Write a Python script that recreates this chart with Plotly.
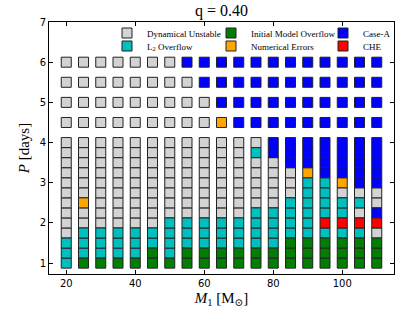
import plotly.graph_objects as go

# Primary mass grid [Msun]
masses = [20, 25, 30, 35, 40, 45, 50, 55, 60, 65, 70, 75, 80, 85, 90, 95, 100, 105, 110]
# Orbital period grid [days]
periods = [1.0, 1.25, 1.5, 1.75, 2.0, 2.25, 2.5, 2.75, 3.0, 3.25, 3.5, 3.75, 4.0,
           4.5, 5.0, 5.5, 6.0]

# Outcome per mass, one letter per period (low -> high P)
# D dynamical unstable, L L2 overflow, I initial model overflow,
# N numerical errors, A case-A, C CHE
status = [
    "LLLDDDDDDDDDDDDDD",  # 20
    "ILLLDDNDDDDDDDDDD",  # 25
    "ILLLDDDDDDDDDDDDD",  # 30
    "ILLLDDDDDDDDDDDDD",  # 35
    "ILLLDDDDDDDDDDDDD",  # 40
    "IILLDDDDDDDDDDDDD",  # 45
    "ILLLLDDDDDDDDDDDD",  # 50
    "IILLLDDDDDDDDDDDA",  # 55
    "IILLLDDDDDDDDDDAA",  # 60
    "IILLLDDDDDDDDNAAA",  # 65
    "IILLLDDDDDDDDAAAA",  # 70
    "IILLLLDDDDDLDAAAA",  # 75
    "IILLLLDDDDDAAAAAA",  # 80
    "IIILLLLDDDAAAAAAA",  # 85
    "IIILLLLLLNAAAAAAA",  # 90
    "IIILCLLLLAAAAAAAA",  # 95
    "IIILCLLDNAAAAAAAA",  # 100
    "IIILCDLDAAAAAAAAA",  # 105
    "IIIDCADDAAAAAAAAA",  # 110
]

codes = ["D", "I", "A", "L", "N", "C"]
labels = ["Dynamical Unstable", "Initial Model Overflow", "Case-A",
          "L<sub>2</sub> Overflow", "Numerical Errors", "CHE"]
colors = ["#d3d3d3", "#007f00", "#0000ff", "#00bfbf", "#ffa500", "#ff0000"]

W, H = 415, 312
ml, mr, mt, mb = 49, 21, 22, 38
pw, ph = W - ml - mr, H - mt - mb

# legend placement
leg_pos = [(136, 33), (240, 33), (352, 33), (136, 46), (240, 46), (352, 46)]

fig = go.Figure()
draw_order = ["D", "L", "I", "N", "A", "C"]
for code in draw_order:
    k = codes.index(code)
    xs, ys = [], []
    for m, s in zip(masses, status):
        for p, c in zip(periods, s):
            if c == code:
                xs.append(m)
                ys.append(p)
    lname = "legend" if k == 0 else f"legend{k+1}"
    fig.add_trace(go.Scatter(
        x=xs, y=ys, mode="markers", name=labels[k],
        marker=dict(symbol="square", size=10, color=colors[k],
                    line=dict(color="#222222", width=1)),
        legend=lname, showlegend=True,
    ))

layout_legends = {}
for k, (px, py) in enumerate(leg_pos):
    lname = "legend" if k == 0 else f"legend{k+1}"
    layout_legends[lname] = dict(
        x=(px - 29 - ml) / pw, y=1 - (py - mt) / ph,
        xanchor="left", yanchor="middle",
        bgcolor="rgba(0,0,0,0)", borderwidth=0,
        font=dict(family="Liberation Serif, DejaVu Serif, serif", size=9, color="black"),
        itemclick=False, itemdoubleclick=False,
    )

fig.update_layout(
    width=W, height=H,
    margin=dict(l=ml, r=mr, t=mt, b=mb, autoexpand=False),
    paper_bgcolor="white", plot_bgcolor="white",
    title=dict(text="q = 0.40", x=(ml + pw / 2) / W, xanchor="center",
               y=1 - 10 / H, yanchor="middle",
               font=dict(family="Liberation Serif, DejaVu Serif, serif", size=16, color="black")),
    **layout_legends,
)
fig.update_xaxes(
    range=[15, 115], tickvals=[20, 40, 60, 80, 100],
    ticks="inside", ticklen=4, tickcolor="black", mirror="ticks",
    showline=True, linecolor="black", linewidth=1, showgrid=False, zeroline=False,
    tickfont=dict(family="DejaVu Sans, sans-serif", size=10, color="black"),
    title=dict(text="<i>M</i><sub>1</sub> [M<sub>⊙</sub>]", standoff=4,
               font=dict(family="Liberation Serif, DejaVu Serif, serif", size=15, color="black")),
)
fig.update_yaxes(
    range=[0.73, 7.0], tickvals=[1, 2, 3, 4, 5, 6, 7],
    ticks="inside", ticklen=4, tickcolor="black", mirror="ticks",
    showline=True, linecolor="black", linewidth=1, showgrid=False, zeroline=False,
    tickfont=dict(family="DejaVu Sans, sans-serif", size=10, color="black"),
    title=dict(text="<i>P</i> [days]", standoff=6,
               font=dict(family="Liberation Serif, DejaVu Serif, serif", size=15, color="black")),
)

fig.write_html("out.html", config={"displayModeBar": False},
               post_script="document.body.style.margin='0';")
